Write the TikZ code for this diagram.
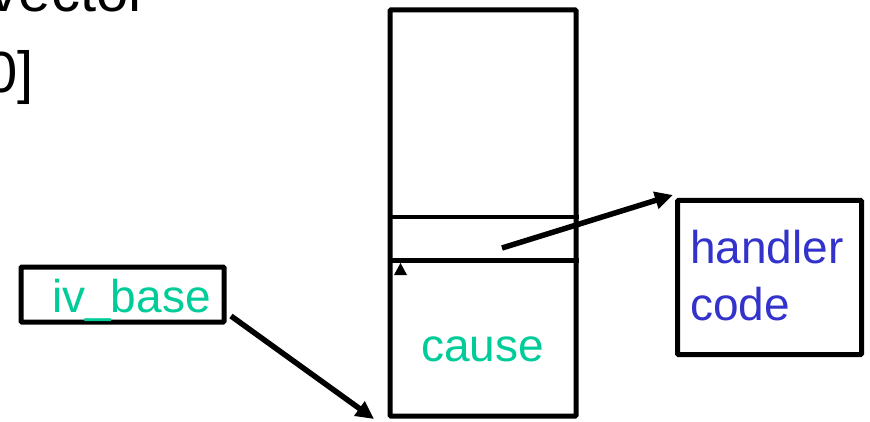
\documentclass[tikz,border=0pt]{standalone}
\usepackage{fontspec}
\setmainfont{Liberation Sans}
\usetikzlibrary{arrows.meta}
\definecolor{tgreen}{RGB}{0,204,153}
\definecolor{tblue}{RGB}{51,51,204}
\tikzset{
  boxline/.style={draw=black, line width=5pt, rounded corners=1pt},
  bigtext/.style={inner sep=0pt, font=\fontsize{46}{57}\selectfont},
  toptext/.style={inner sep=0pt, font=\fontsize{58}{70}\selectfont},
  ptr/.style={line width=5.5pt, -{Triangle[length=18pt,width=17pt]}},
}
\begin{document}
\begin{tikzpicture}[x=1pt,y=-1pt]
\useasboundingbox (0,0) rectangle (870,422);
\clip (0,0) rectangle (870,422);
% cut-off title text
\node[toptext, anchor=base east] (title) at (148,12) {vector};
\node[toptext, anchor=base east] (idx) at (34,93) {0]};
% tall vector table
\node[boxline, minimum width=186pt, minimum height=406pt, inner sep=0pt] (table) at (483,213) {};
\draw[line width=3.5pt] (table.west |- 0,217) coordinate (s1) -- (table.east |- 0,217) coordinate (s2);
\draw[line width=5pt] (table.west |- 0,260) coordinate (s3) -- (table.east |- 0,260) coordinate (s4);
\fill (400.5,263) -- (407,275) -- (394,275) -- cycle;
\node[bigtext, text=tgreen, anchor=base] (cause) at (482.5,361) {cause};
% handler box
\node[boxline, minimum width=184pt, minimum height=154pt, inner sep=0pt] (handler) at (769.5,277.5) {};
\node[bigtext, text=tblue, anchor=base west] (hl1) at (690,263) {handler};
\node[bigtext, text=tblue, anchor=base west] (hl2) at (690,320) {code};
% iv_base box
\node[boxline, minimum width=203pt, minimum height=55pt, inner sep=0pt] (ivbase) at (122.5,294.5) {};
\node[bigtext, text=tgreen, anchor=base west] (ivtext) at (52,312) {iv\_base};
% pointers
\coordinate (slotstart) at (502,248);
\coordinate (htarget) at (673,195);
\draw[ptr] (slotstart) -- (htarget);
\coordinate (ivstart) at (231,316);
\coordinate (ttarget) at (374,419);
\draw[ptr] (ivstart) -- (ttarget);
\end{tikzpicture}
\end{document}
